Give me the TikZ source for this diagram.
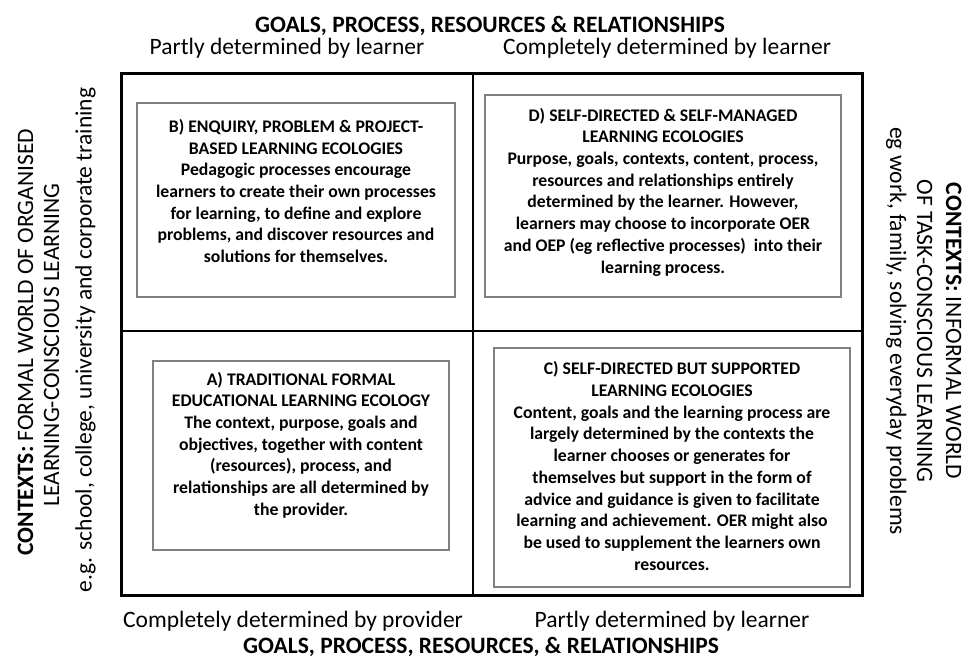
\documentclass[tikz,border=0pt]{standalone}
\usepackage{fontspec}
\setmainfont{Carlito}
\definecolor{boxgray}{RGB}{128,128,128}
\begin{document}
\begin{tikzpicture}[x=1pt,y=-1pt,
  lbl/.style={font=\fontsize{23.5}{28.7}\selectfont, inner sep=0pt, anchor=base},
  ttl/.style={font=\fontsize{23.5}{28.7}\selectfont\bfseries, inner sep=0pt, anchor=base},
  frameline/.style={draw=black, line width=3pt},
  divider/.style={draw=black, line width=2pt},
  ecobox/.style={draw=boxgray, line width=2.8pt, fill=white},
  ecotext/.style={font=\fontsize{17.7}{21.7}\selectfont\bfseries, align=center, inner sep=0pt}]
\useasboundingbox (0,0) rectangle (965,657);

% quadrant frame
\draw[divider] (473,73) -- (473,595);
\draw[divider] (121,331) -- (862,331);
\draw[frameline] (121,73) rectangle (862,595);

% ecology boxes
\draw[ecobox] (137,103) rectangle (455,297);
\draw[ecobox] (485,95) rectangle (841,297);
\draw[ecobox] (153,361) rectangle (449,550);
\draw[ecobox] (494,348) rectangle (850,587);

\node[ecotext] (b) at (296,191) {B) ENQUIRY, PROBLEM \& PROJECT-\\BASED LEARNING ECOLOGIES\\Pedagogic processes encourage\\learners to create their own processes\\for learning, to define and explore\\problems, and discover resources and\\solutions for themselves.};
\node[ecotext] (d) at (663,192) {D) SELF-DIRECTED \& SELF-MANAGED\\LEARNING ECOLOGIES\\Purpose, goals, contexts, content, process,\\resources and relationships entirely\\determined by the learner. However,\\learners may choose to incorporate OER\\and OEP (eg reflective processes)\ \ into their\\learning process.};
\node[ecotext] (a) at (301,445) {A) TRADITIONAL FORMAL\\EDUCATIONAL LEARNING ECOLOGY\\The context, purpose, goals and\\objectives, together with content\\(resources), process, and\\relationships are all determined by\\the provider.};
\node[ecotext] (c) at (672,466) {C) SELF-DIRECTED BUT SUPPORTED\\LEARNING ECOLOGIES\\Content, goals and the learning process are\\largely determined by the contexts the\\learner chooses or generates for\\themselves but support in the form of\\advice and guidance is given to facilitate\\learning and achievement. OER might also\\be used to supplement the learners own\\resources.};

% top and bottom labels
\node[ttl] (toptitle) at (490,32) {GOALS, PROCESS, RESOURCES \& RELATIONSHIPS};
\node[lbl] (tl) at (287,54) {Partly determined by learner};
\node[lbl] (tr) at (667,54) {Completely determined by learner};
\node[lbl] (bl) at (293,627) {Completely determined by provider};
\node[lbl] (br) at (672,627) {Partly determined by learner};
\node[ttl] (bottitle) at (481,653) {GOALS, PROCESS, RESOURCES, \& RELATIONSHIPS};

% left side
\node[lbl, rotate=90] (l1) at (33,342) {\textbf{CONTEXTS:} FORMAL WORLD OF ORGANISED};
\node[lbl, rotate=90] (l2) at (59,345) {LEARNING-CONSCIOUS LEARNING};
\node[lbl, rotate=90] (l3) at (91.5,340) {e.g. school, college, university and corporate training};

% right side
\node[lbl, rotate=-90] (r1) at (946,331) {\textbf{CONTEXTS:} INFORMAL WORLD};
\node[lbl, rotate=-90] (r2) at (917,331) {OF TASK-CONSCIOUS LEARNING};
\node[lbl, rotate=-90] (r3) at (890,331) {eg work, family, solving everyday problems};
\end{tikzpicture}
\end{document}
